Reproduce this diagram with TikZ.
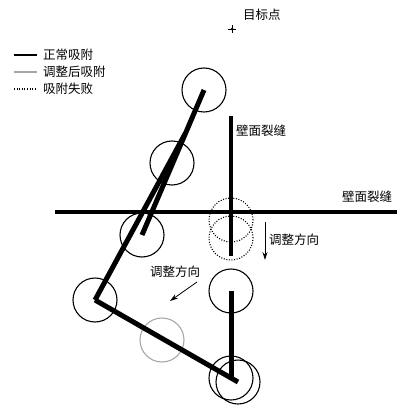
\documentclass[tikz,border=0pt]{standalone}
\usepackage{fontspec}
\newfontfamily\cjk{Noto Sans CJK SC}
\usetikzlibrary{arrows.meta}
\begin{document}
\begin{tikzpicture}[x=1pt,y=-1pt,
  cup/.style={circle,draw,line width=1.1pt,minimum size=44pt,inner sep=0pt},
  failcup/.style={cup,dash pattern=on 1pt off 1.6pt},
  adjcup/.style={cup,draw=black!35},
  body/.style={line width=5pt},
  crack/.style={line width=3.5pt},
  lbl/.style={font=\cjk\fontsize{12.5}{14}\selectfont,inner sep=0pt,anchor=west},
  arr/.style={line width=0.8pt,-{Stealth[length=8pt,width=5pt]}}]
\useasboundingbox (0,0) rectangle (404,406);
% legend
\coordinate (la1) at (14,55); \coordinate (lb1) at (37,55);
\coordinate (la2) at (14,72); \coordinate (lb2) at (37,72);
\coordinate (la3) at (14,89); \coordinate (lb3) at (37,89);
\draw[line width=2pt] (la1) -- (lb1);
\draw[line width=2pt,black!35] (la2) -- (lb2);
\draw[line width=1.2pt,dash pattern=on 1pt off 1.6pt] (la3) -- (lb3);
\node[lbl] (t1) at (43,55) {正常吸附};
\node[lbl] (t2) at (43,72) {调整后吸附};
\node[lbl] (t3) at (43,89) {吸附失败};
% target
\node[lbl] (tgt) at (243,15) {目标点};
\coordinate (star) at (232,29);
\draw[line width=0.7pt] ([xshift=-4pt]star) -- ([xshift=4pt]star);
\draw[line width=0.7pt] ([yshift=-4pt]star) -- ([yshift=4pt]star);
\fill (star) circle (1.5pt);
% cracks
\coordinate (vt) at (231,116); \coordinate (vb) at (231,256);
\coordinate (hl) at (55,212); \coordinate (hr) at (397,212);
\draw[crack] (vt) -- (vb);
\draw[crack] (hl) -- (hr);
\node[lbl] (vlab) at (236,131) {壁面裂缝};
\node[lbl] (hlab) at (342,197) {壁面裂缝};
% cups
\node[cup] (c1) at (204,90) {};
\node[cup] (c2) at (172,163) {};
\node[cup] (c3) at (142,235) {};
\node[cup] (c4) at (95,300) {};
\node[adjcup] (cg) at (162,340) {};
\node[failcup] (f1) at (231,220) {};
\node[failcup] (f2) at (231,238) {};
\node[cup] (c5) at (231,291) {};
\node[cup] (c6) at (231,378) {};
\node[cup] (c7) at (238,382) {};
% body lines
\coordinate (bj) at (185,134);
\draw[body] (c1.center) -- (c3.center);
\draw[body] (bj) -- (c4.center);
\draw[body] (c4.center) -- (c7.center);
\draw[body] (c5.center) -- (c6.center);
% adjust arrows
\coordinate (ar1) at (265,222); \coordinate (ar2) at (265,260);
\draw[arr] (ar1) -- (ar2);
\node[lbl] (alab1) at (269,240) {调整方向};
\coordinate (al1) at (197,282); \coordinate (al2) at (170,301);
\draw[arr] (al1) -- (al2);
\node[lbl] (alab2) at (150,272) {调整方向};
\end{tikzpicture}
\end{document}
